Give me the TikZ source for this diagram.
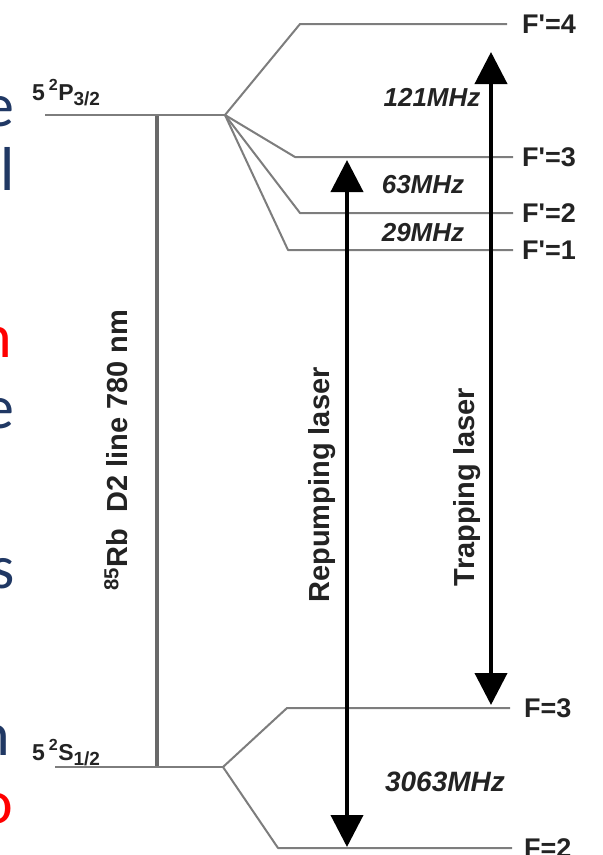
\documentclass[tikz,border=0pt]{standalone}
\usepackage{fontspec}
\setmainfont{Liberation Sans}[Ligatures=TeXOff]
\newfontfamily\slidefont{Carlito}
\usetikzlibrary{arrows.meta}
\definecolor{slideblue}{RGB}{32,56,100}
\definecolor{slidered}{RGB}{255,0,0}
\definecolor{levelgray}{RGB}{125,125,125}
\definecolor{linegray}{RGB}{105,105,105}
\definecolor{ink}{RGB}{35,35,35}

\tikzset{
  slidetext/.style={inner sep=0pt,font=\slidefont\fontsize{62}{62}\selectfont},
  level/.style={draw=levelgray,line width=2pt,line join=round},
  transition/.style={draw=linegray,line width=3.5pt},
  laser/.style={draw=black,line width=4pt,
    {Triangle[width=32pt,length=32pt]}-{Triangle[width=32pt,length=32pt]}},
  statelabel/.style={inner sep=0pt,text=ink,font=\bfseries\fontsize{23}{23}\selectfont},
  flabel/.style={inner sep=0pt,anchor=west,text=ink,font=\bfseries\fontsize{27}{27}\selectfont},
  freq/.style={inner sep=0pt,text=ink,font=\bfseries\itshape\fontsize{26}{26}\selectfont},
  vlabel/.style={inner sep=0pt,rotate=90,text=ink,font=\bfseries\fontsize{29}{29}\selectfont},
}
\newcommand{\subidx}[1]{\textsubscript{\fontsize{19}{19}\selectfont #1}}

\begin{document}
\begin{tikzpicture}[x=1pt,y=-1pt]
\useasboundingbox (0,0) rectangle (603,855);
\clip (0,0) rectangle (603,855);

% cut-off slide text along the left edge
\node[slidetext,anchor=base east,text=slideblue] (t1) at (15,126) {e};
\node[slidetext,anchor=base west,text=slideblue] (t2) at (0,190) {l};
\node[slidetext,anchor=base east,text=slidered]  (t3) at (12,357) {n};
\node[slidetext,anchor=base east,text=slideblue] (t4) at (15,428) {e};
\node[slidetext,anchor=base east,text=slideblue] (t5) at (15,588) {s};
\node[slidetext,anchor=base east,text=slideblue] (t6) at (10,755) {n};
\node[slidetext,anchor=base east,text=slidered]  (t7) at (13,823) {o};

% fine-structure levels
\coordinate (P-left) at (45,115);
\coordinate (P-fork) at (225,115);
\coordinate (S-left) at (55,767);
\coordinate (S-fork) at (223,767);
\coordinate (D2-top) at (157,115);
\coordinate (D2-bot) at (157,767);

\node[statelabel,anchor=base west] (Plabel) at (32,100)
  {5\,\textsuperscript{2}P\subidx{3/2}};
\node[statelabel,anchor=base west] (Slabel) at (32,760)
  {5\,\textsuperscript{2}S\subidx{1/2}};

\draw[transition] (D2-top) -- (D2-bot);
\draw[level] (P-left) -- (P-fork);
\draw[level] (S-left) -- (S-fork);

% hyperfine levels of 5P3/2
\coordinate (F4a) at (300,24);  \coordinate (F4b) at (507,24);
\coordinate (F3a) at (295,157); \coordinate (F3b) at (513,157);
\coordinate (F2a) at (300,213); \coordinate (F2b) at (513,213);
\coordinate (F1a) at (288,250); \coordinate (F1b) at (513,250);
\draw[level] (P-fork) -- (F4a) -- (F4b);
\draw[level] (P-fork) -- (F3a) -- (F3b);
\draw[level] (P-fork) -- (F2a) -- (F2b);
\draw[level] (P-fork) -- (F1a) -- (F1b);

% hyperfine levels of 5S1/2
\coordinate (G3a) at (287,708); \coordinate (G3b) at (510,708);
\coordinate (G2a) at (278,848); \coordinate (G2b) at (512,848);
\draw[level] (S-fork) -- (G3a) -- (G3b);
\draw[level] (S-fork) -- (G2a) -- (G2b);

\node[flabel] (lF4) at (522,24)  {F'=4};
\node[flabel] (lF3) at (522,157) {F'=3};
\node[flabel] (lF2) at (522,213) {F'=2};
\node[flabel] (lF1) at (522,250) {F'=1};
\node[flabel] (lG3) at (524,708) {F=3};
\node[flabel] (lG2) at (524,848) {F=2};

% splittings
\node[freq] (f121) at (432,97)  {121MHz};
\node[freq] (f63)  at (423,185) {63MHz};
\node[freq] (f29)  at (423,233) {29MHz};
\node[freq,font=\bfseries\itshape\fontsize{28}{28}\selectfont] (f3063) at (445,782) {3063MHz};

% laser transitions
\coordinate (rp-top) at (347,160);
\coordinate (rp-bot) at (347,847);
\coordinate (tr-top) at (491,52);
\coordinate (tr-bot) at (491,705);
\draw[laser] (rp-bot) -- (rp-top);
\draw[laser] (tr-bot) -- (tr-top);

\node[vlabel] (rplabel) at (322,485) {Repumping laser};
\node[vlabel] (trlabel) at (467,487) {Trapping laser};
\node[vlabel] (d2label) at (116,450)
  {\textsuperscript{85}Rb\ \ D2 line 780 nm};
\end{tikzpicture}
\end{document}
